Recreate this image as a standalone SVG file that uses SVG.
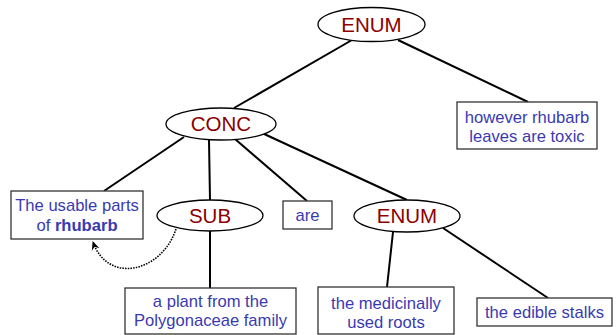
<svg xmlns="http://www.w3.org/2000/svg" width="616" height="335" viewBox="0 0 616 335">
<defs>
<style>
.node ellipse{fill:#fff;stroke:#000;stroke-width:1.3}
.node text{font-family:"Liberation Sans",Arial,sans-serif;font-size:20.5px;fill:#8b0000;text-anchor:middle}
.box rect{fill:#fff;stroke:#333;stroke-width:1.3}
.box text{font-family:"Liberation Sans",Arial,sans-serif;font-size:16.6px;fill:#3a3ab0;text-anchor:middle}
.edge{stroke:#000;stroke-width:2;fill:none}
.dot{stroke:#000;stroke-width:1.6;fill:none;stroke-dasharray:1.5 1.2}
</style>
<marker id="ah" markerWidth="10" markerHeight="10" refX="8" refY="5" orient="auto" markerUnits="userSpaceOnUse">
<path d="M0,1 L9,5 L0,9 L3,5 Z" fill="#000"/>
</marker>
</defs>
<rect width="616" height="335" fill="#fff"/>
<g id="connectors">
<line class="edge" x1="352" y1="40" x2="234" y2="108"/>
<line class="edge" x1="398" y1="40" x2="528" y2="102"/>
<line class="edge" x1="184" y1="137" x2="104" y2="191"/>
<line class="edge" x1="209" y1="140" x2="210" y2="200"/>
<line class="edge" x1="235" y1="139" x2="307" y2="201"/>
<line class="edge" x1="262" y1="133" x2="407" y2="200"/>
<line class="edge" x1="210" y1="231" x2="210" y2="288"/>
<line class="edge" x1="393" y1="232" x2="387" y2="287"/>
<line class="edge" x1="443" y1="228" x2="548" y2="298"/>
<path class="dot" d="M176,229 C162,272 108,285 93,242" marker-end="url(#ah)"/>
</g>
<g id="enum1" class="node"><ellipse cx="371.5" cy="24.5" rx="53.5" ry="17"/><text x="371.5" y="32">ENUM</text></g>
<g id="conc" class="node"><ellipse cx="221" cy="124" rx="55" ry="16"/><text x="221" y="131">CONC</text></g>
<g id="sub" class="node"><ellipse cx="210" cy="215.5" rx="53" ry="15.5"/><text x="210" y="223">SUB</text></g>
<g id="enum2" class="node"><ellipse cx="407" cy="216" rx="53" ry="16"/><text x="407" y="223">ENUM</text></g>
<g id="toxic" class="box"><rect x="457" y="102" width="140" height="47"/><text x="527" y="123">however rhubarb</text><text x="527" y="142">leaves are toxic</text></g>
<g id="usable" class="box"><rect x="11" y="191" width="132" height="48"/><text x="77" y="211">The usable parts</text><text x="77" y="231">of <tspan font-weight="bold">rhubarb</tspan></text></g>
<g id="are" class="box"><rect x="283" y="201" width="49" height="28"/><text x="307.5" y="221">are</text></g>
<g id="plant" class="box"><rect x="125" y="288" width="171" height="46"/><text x="210.5" y="307">a plant from the</text><text x="210.5" y="326">Polygonaceae family</text></g>
<g id="roots" class="box"><rect x="318" y="287" width="136" height="47"/><text x="386" y="309">the medicinally</text><text x="386" y="328">used roots</text></g>
<g id="stalks" class="box"><rect x="477" y="298" width="135" height="28"/><text x="544.5" y="318">the edible stalks</text></g>
</svg>
